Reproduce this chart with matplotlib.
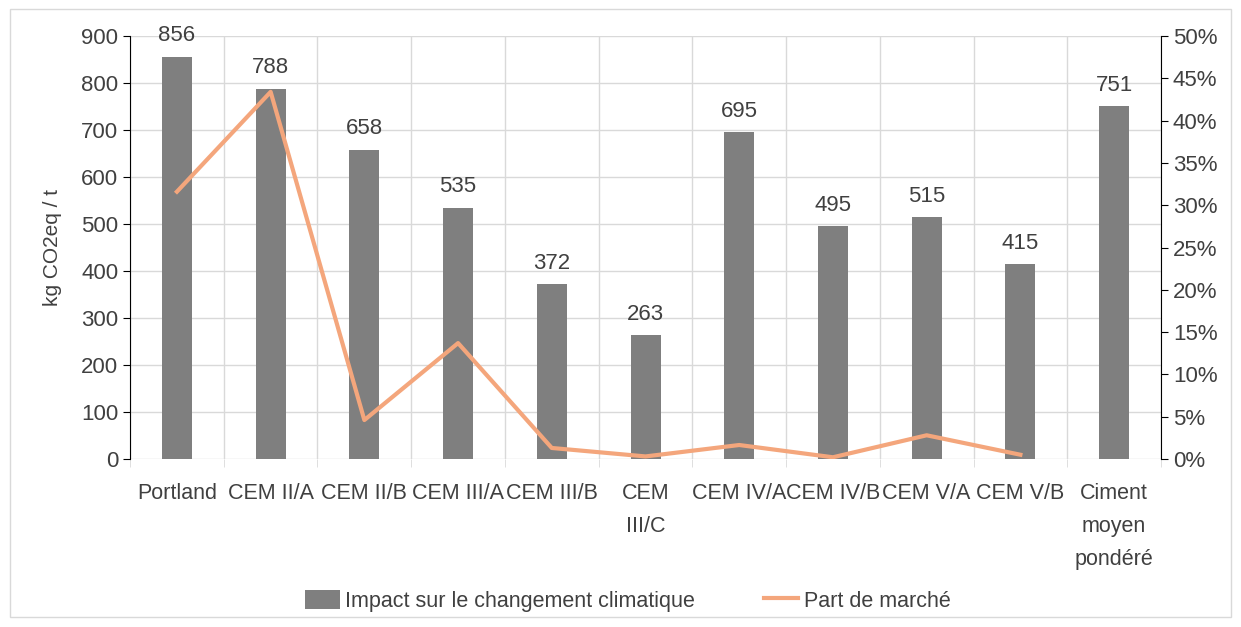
"""impact climatique des ciments et part de marché"""

import numpy as np
import matplotlib.pyplot as plt
from matplotlib.ticker import FuncFormatter
from matplotlib.patches import Rectangle

plt.rcParams['font.family'] = ['Liberation Sans Narrow', 'Liberation Sans', 'DejaVu Sans']

categories = ['Portland', 'CEM II/A', 'CEM II/B', 'CEM III/A', 'CEM III/B', 'CEM\nIII/C',
              'CEM IV/A', 'CEM IV/B', 'CEM V/A', 'CEM V/B', 'Ciment\nmoyen\npondéré']
impact = [856, 788, 658, 535, 372, 263, 695, 495, 515, 415, 751]
part_marche = [31.6, 43.4, 4.6, 13.7, 1.3, 0.3, 1.65, 0.2, 2.8, 0.5, np.nan]

bar_col = '#7f7f7f'
line_col = '#f4a67c'
text_col = '#404040'
grid_col = '#d9d9d9'

fig = plt.figure(figsize=(12.41, 6.27), dpi=100)
fig.patches.append(Rectangle((0.008, 0.016), 0.984, 0.97, transform=fig.transFigure,
                             fill=False, ec=grid_col, lw=1))
ax = fig.add_axes([0.1048, 0.268, 0.8307, 0.6745])
x = np.arange(len(categories))

bars = ax.bar(x, impact, width=0.32, color=bar_col, zorder=3,
              label='Impact sur le changement climatique')
for xi, v in zip(x, impact):
    ax.text(xi, v + 22, str(v), ha='center', va='bottom', fontsize=16, color=text_col)

ax.set_xlim(-0.5, len(categories) - 0.5)
ax.set_ylim(0, 900)
ax.set_yticks(range(0, 901, 100))
ax.set_xticks(x)
ax.set_xticklabels(categories, fontsize=15.5, color=text_col, linespacing=1.75, va='top')
ax.tick_params(axis='x', length=0, pad=17)
ax.set_xticks(np.arange(-0.5, len(categories), 1), minor=True)
ax.tick_params(axis='x', which='minor', length=6, color=grid_col)
ax.tick_params(axis='y', labelsize=16, labelcolor=text_col, length=5, color='black')
ax.grid(True, which='major', axis='y', color=grid_col, lw=1, zorder=0)
ax.grid(True, which='minor', axis='x', color=grid_col, lw=1, zorder=0)
ax.set_ylabel('kg CO2eq / t', fontsize=15, color=text_col, labelpad=14)
for s in ['top', 'bottom']:
    ax.spines[s].set_visible(False)
ax.spines['right'].set_visible(False)
ax.spines['left'].set_color('black')

ax2 = ax.twinx()
line, = ax2.plot(x, part_marche, color=line_col, lw=3, zorder=4, label='Part de marché')
ax2.set_ylim(0, 50)
ax2.set_yticks(range(0, 51, 5))
ax2.yaxis.set_major_formatter(FuncFormatter(lambda v, p: '%d%%' % v))
ax2.tick_params(axis='y', labelsize=16, labelcolor=text_col, length=5, color='black')
for s in ['top', 'bottom', 'left']:
    ax2.spines[s].set_visible(False)
ax2.spines['right'].set_color('black')

fig.legend([bars, line], ['Impact sur le changement climatique', 'Part de marché'],
           loc='center', bbox_to_anchor=(0.506, 0.042), ncol=2, frameon=False,
           fontsize=15.5, labelcolor=text_col, handlelength=1.6, handleheight=1.0,
           columnspacing=3.2, handletextpad=0.25)

fig.savefig('out.png', dpi=100)
